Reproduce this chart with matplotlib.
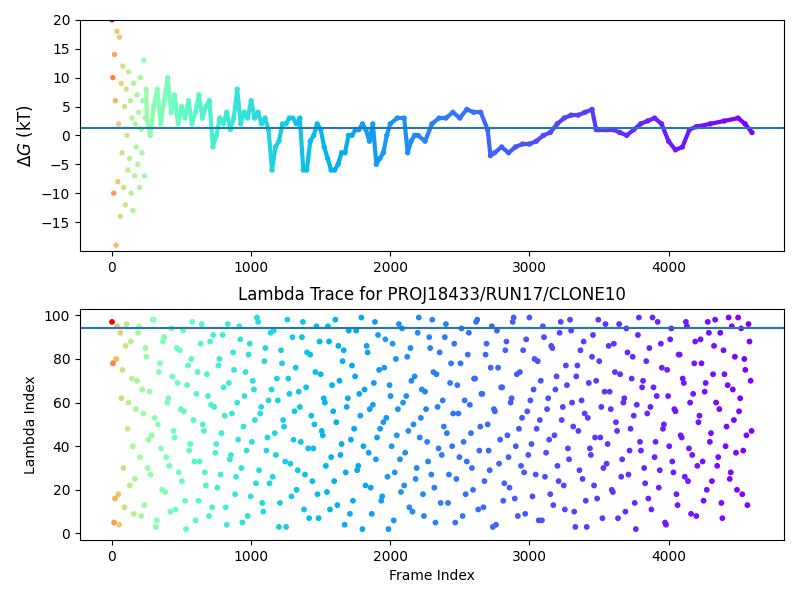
import matplotlib.pyplot as plt
import matplotlib.colors as mcolors
import numpy as np
from matplotlib.collections import LineCollection

# Free energy trace (frame, dG in kT)
early_frames = [0, 6, 12, 18, 24, 30, 36, 42, 48, 54, 60, 66, 72, 78, 84, 90, 96, 102,
                108, 114, 120, 126, 132, 138, 144, 150, 156, 162, 168, 174, 180, 186,
                192, 198, 204, 210, 216, 222, 228, 234, 240, 246]
early_dg = [20, 10, -10, 14, 6, -19, 18, -8, 2, 17, -14, 9, -3, 12, -9, 5, -12, 8,
            0, -6, 11, -4, 6, -10, 3, -13, 9, -7, 2, -2, 7, -5, 4, -9, 10, 1,
            -3, 6, 13, -7, 3, 8]
trace_frames = [250, 275, 300, 325, 350, 375, 400, 425, 450, 475, 500, 525, 550, 575,
                600, 625, 650, 675, 700, 725, 750, 775, 800, 825, 850, 875, 900, 925,
                950, 975, 1000, 1025, 1050, 1075, 1100, 1125, 1150, 1175, 1200, 1225,
                1250, 1275, 1300, 1325, 1350, 1375, 1400, 1425, 1450, 1475, 1500, 1525,
                1550, 1575, 1600, 1625, 1650, 1675, 1700, 1725, 1750, 1775, 1800, 1825,
                1850, 1875, 1900, 1925, 1950, 1975, 2000, 2050, 2100, 2125, 2150, 2175,
                2200, 2250, 2300, 2350, 2400, 2450, 2500, 2550, 2600, 2650, 2700, 2720,
                2750, 2800, 2850, 2900, 2950, 3000, 3050, 3100, 3150, 3200, 3250, 3300,
                3350, 3400, 3450, 3480, 3500, 3550, 3600, 3650, 3700, 3750, 3800, 3850,
                3900, 3950, 4000, 4050, 4100, 4150, 4200, 4300, 4400, 4500, 4550, 4600]
trace_dg = [3, 0, 5, 8, 2, 6, 10, 4, 7, 2, 5, 3, 6, 2, 4, 7, 3, 5, 6, -2,
            0, 3, 2, 4, 1, 3, 8, 2, 4, 3, 6, 3, 4, 2, 3, 1, -6, -2, -1, 2,
            2, 3, 3, 2, 3, -6, -6, -1, 0, 2, 1, -2, -4, -6, -6, -5, -3, -3, 0, 0,
            1, 1, 2, 1, -1, 2, -5, -4, -3, 0, 2, 3, 3, -3, -1, 0,
            0, -1, 2, 3, 3, 4, 3, 4.5, 4, 4, 1, -3.5,
            -3, -2, -3, -2, -1.5, -1.5, -1, 0, 0.5, 2, 3, 3.5,
            3.5, 4, 4.5, 1, 1, 1, 1, 0.5, 0, 1, 2, 2.5,
            3, 2, -1, -2.5, -2, 1, 1.5, 2, 2.5, 3, 2, 0.5]

# Lambda index visited, two interleaved samplings every 15 frames
lam_values_a = [
    97, 5, 80, 18, 92, 75, 12, 96, 60, 88, 40, 25, 70, 95, 8, 55, 85, 30, 65, 45,
    98, 3, 50, 78, 20, 90, 35, 62, 10, 72, 44, 85, 28, 57, 93, 15, 68, 38, 80, 52,
    6, 74, 33, 96, 47, 22, 63, 88, 12, 58, 41, 77, 27, 91, 54, 4, 69, 36, 83, 18,
    60, 95, 30, 49, 74, 8, 87, 42, 66, 23, 97, 55, 14, 79, 38, 61, 92, 26, 46, 71,
    3, 84, 52, 33, 98, 64, 17, 43, 76, 29, 58, 90, 11, 67, 39, 82, 24, 50, 95, 7,
    73, 45, 60, 19, 88, 35, 56, 98, 13, 70, 41, 84, 28, 62, 9, 77, 48, 93, 31, 54,
    2, 66, 86, 37, 21, 59, 97, 44, 75, 15, 51, 89, 26, 68, 40, 6, 80, 57, 34, 94,
    22, 63, 47, 85, 10, 72, 30, 99, 53, 18, 65, 42, 90, 27, 74, 5, 58, 83, 36, 49,
    96, 14, 69, 40, 87, 25, 55, 78, 8, 61, 33, 92, 46, 20, 71, 98, 38, 64, 12, 82,
    50, 29, 95, 57, 4, 76, 43, 67, 23, 88, 35, 60, 97, 16, 73, 48, 31, 84, 9, 56,
    99, 41, 66, 27, 79, 52, 6, 90, 37, 62, 18, 85, 45, 72, 24, 97, 58, 11, 68, 34,
    93, 49, 3, 77, 29, 61, 88, 15, 53, 39, 81, 22, 70, 98, 44, 7, 65, 32, 86, 57,
    19, 74, 47, 96, 26, 60, 10, 83, 38, 71, 54, 2, 91, 42, 67, 30, 79, 16, 58, 99,
    35, 63, 21, 87, 48, 5, 75, 40, 94, 28, 56, 13, 82, 44, 69, 97, 24, 60, 36, 78,
    8, 51, 89, 33, 65, 20, 92, 46, 73, 98, 31, 57, 14, 84, 40, 68, 25, 95, 52,
    37, 99, 62, 18, 80, 45, 96, 70,
]
lam_values_b = [
    78, 16, 95, 4, 62, 30, 86, 48, 22, 71, 9, 57, 92, 35, 66, 13, 81, 43, 27, 98,
    53, 6, 74, 39, 88, 19, 60, 31, 94, 47, 11, 69, 84, 24, 56, 2, 77, 41, 97, 33,
    64, 15, 87, 50, 28, 73, 8, 59, 91, 37, 21, 80, 46, 67, 12, 96, 34, 55, 75, 26,
    43, 89, 5, 63, 38, 82, 17, 70, 52, 99, 29, 58, 10, 85, 44, 23, 66, 93, 36, 61,
    14, 78, 49, 3, 71, 32, 90, 56, 20, 65, 42, 97, 27, 83, 7, 54, 39, 74, 18, 88,
    47, 62, 31, 95, 11, 68, 24, 51, 86, 36, 79, 4, 58, 93, 43, 15, 72, 29, 64, 99,
    40, 22, 83, 57, 9, 69, 34, 91, 48, 17, 76, 53, 2, 63, 87, 28, 45, 96, 19, 60,
    37, 81, 12, 70, 50, 25, 92, 44, 66, 8, 57, 33, 85, 98, 21, 73, 39, 14, 61, 90,
    46, 27, 78, 55, 5, 68, 35, 94, 42, 18, 82, 59, 30, 71, 97, 11, 49, 64, 24, 87,
    38, 76, 3, 56, 93, 32, 67, 15, 84, 45, 21, 62, 99, 40, 8, 74, 53, 28, 89, 36,
    61, 17, 80, 48, 6, 70, 95, 26, 57, 43, 86, 13, 66, 31, 92, 52, 22, 77, 39, 98,
    60, 10, 72, 47, 84, 25, 55, 3, 69, 36, 91, 44, 16, 79, 58, 30, 96, 41, 65, 20,
    87, 51, 7, 73, 34, 62, 94, 27, 48, 81, 14, 59, 99, 38, 70, 23, 55, 85, 11, 67,
    42, 97, 29, 76, 50, 4, 63, 89, 33, 57, 18, 82, 45, 71, 26, 95, 39, 9, 64, 88,
    31, 54, 78, 15, 69, 97, 42, 24, 86, 60, 35, 92, 7, 73, 49, 99, 28, 66, 81, 20,
    56, 94, 38, 75, 13, 88, 47,
]
lam_frames_a = list(range(0, 15 * len(lam_values_a), 15))
lam_frames_b = list(range(7, 7 + 15 * len(lam_values_b), 15))

frames = np.array(early_frames + trace_frames)
dg = np.array(early_dg + trace_dg)
cmap = plt.get_cmap('rainbow_r')
norm = mcolors.PowerNorm(gamma=0.27, vmin=0, vmax=4600)

fig, (ax1, ax2) = plt.subplots(2, 1, figsize=(8, 6), dpi=100)
fig.subplots_adjust(left=0.1, right=0.98, top=0.967, bottom=0.1, hspace=0.25)

# Top panel: smooth trace drawn as a coloured line plus points
n_early = len(early_frames)
pts = np.column_stack([frames[n_early - 1:], dg[n_early - 1:]]).reshape(-1, 1, 2)
segs = np.concatenate([pts[:-1], pts[1:]], axis=1)
lc = LineCollection(segs, colors=cmap(norm(frames[n_early:])), linewidth=3)
ax1.add_collection(lc)
ax1.scatter(frames, dg, c=frames, cmap=cmap, norm=norm, s=8)
ax1.axhline(1.2, color='tab:blue')
ax1.set_ylim(-20, 20)
ax1.set_yticks(range(-15, 21, 5))
ax1.set_xlim(-230, 4830)
ax1.set_ylabel(r'$\Delta G$ (kT)', fontsize=12)

# Bottom panel: lambda trace
lf = np.array(lam_frames_a + lam_frames_b)
lv = lam_values_a + lam_values_b
ax2.scatter(lf, lv, c=lf, cmap=cmap, norm=norm, s=10)
ax2.axhline(94, color='tab:blue')
ax2.set_xlim(-230, 4830)
ax2.set_ylim(-3, 103)
ax2.set_title('Lambda Trace for PROJ18433/RUN17/CLONE10')
ax2.set_xlabel('Frame Index')
ax2.set_ylabel('Lambda Index')

fig.savefig('out.png')
